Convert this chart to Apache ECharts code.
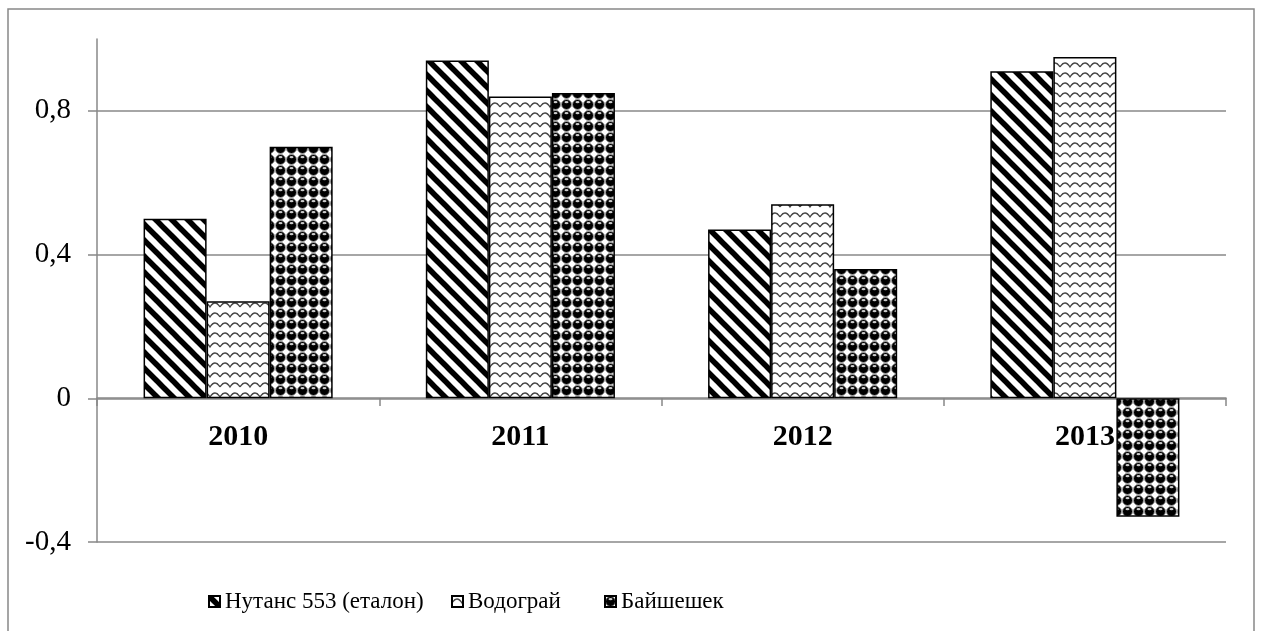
<!DOCTYPE html>
<html>
<head>
<meta charset="utf-8">
<script src="https://cdn.jsdelivr.net/npm/echarts@6/dist/echarts.min.js"></script>
<style>
  html, body { margin: 0; padding: 0; background: #fff; }
  #chart { width: 1261px; height: 631px; }
</style>
</head>
<body>
<div id="chart"></div>
<script>
// дані
var years = ['2010', '2011', '2012', '2013'];
var seriesNames = ['Нутанс 553 (еталон)', 'Водограй', 'Байшешек'];
var nutans = [0.50, 0.94, 0.47, 0.91];
var vodohrai = [0.27, 0.84, 0.54, 0.95];
var baishesek = [0.70, 0.85, 0.36, -0.33];

// візерунки заливки
function stripes() {
  var c = document.createElement('canvas');
  c.width = 16; c.height = 16;
  var g = c.getContext('2d');
  g.fillStyle = '#fff';
  g.fillRect(0, 0, 16, 16);
  g.strokeStyle = '#000';
  g.lineWidth = 5.5;
  for (var k = -16; k <= 16; k += 16) {
    g.beginPath();
    g.moveTo(k - 4, -4);
    g.lineTo(k + 20, 20);
    g.stroke();
  }
  return c;
}
function waves() {
  var c = document.createElement('canvas');
  c.width = 20; c.height = 10;
  var g = c.getContext('2d');
  g.fillStyle = '#fff';
  g.fillRect(0, 0, 20, 10);
  g.strokeStyle = '#444';
  g.lineWidth = 1.4;
  g.beginPath();
  g.moveTo(0, 7);
  g.quadraticCurveTo(5, -1, 10, 7);
  g.quadraticCurveTo(15, -1, 20, 7);
  g.stroke();
  return c;
}
function balls() {
  var c = document.createElement('canvas');
  c.width = 11; c.height = 11;
  var g = c.getContext('2d');
  g.fillStyle = '#fff';
  g.fillRect(0, 0, 11, 11);
  g.beginPath();
  g.arc(5.5, 5.5, 5, 0, Math.PI * 2);
  g.fillStyle = '#000';
  g.fill();
  g.strokeStyle = '#999';
  g.lineWidth = 1;
  g.stroke();
  g.beginPath();
  g.ellipse(5.5, 3.2, 2, 1.1, 0, 0, Math.PI * 2);
  g.fillStyle = '#ccc';
  g.fill();
  return c;
}

var serif = "'Liberation Serif', serif";
var chart = echarts.init(document.getElementById('chart'));

function bar(name, data, img) {
  return {
    name: name,
    type: 'bar',
    data: data,
    barGap: '0%',
    barCategoryGap: '33%',
    itemStyle: {
      color: { image: img, repeat: 'repeat' },
      borderColor: '#000',
      borderWidth: 1.5
    }
  };
}

function legendAt(name, left) {
  return {
    data: [name],
    left: left,
    bottom: 13,
    icon: 'rect',
    itemWidth: 11,
    itemHeight: 11,
    itemGap: 0,
    textStyle: { fontFamily: serif, fontSize: 23, color: '#000' }
  };
}

var option = {
  animation: false,
  backgroundColor: '#fff',
  textStyle: { fontFamily: serif },
  graphic: [{
    type: 'rect',
    shape: { x: 8, y: 9, width: 1246, height: 640 },
    style: { fill: null, stroke: '#888', lineWidth: 1.5 },
    silent: true
  }],
  grid: { left: 97, right: 35, top: 39, bottom: 89 },
  legend: [
    legendAt(seriesNames[0], 203),
    legendAt(seriesNames[1], 446),
    legendAt(seriesNames[2], 599)
  ],
  xAxis: {
    type: 'category',
    data: years,
    offset: -144,
    axisLine: { onZero: false, lineStyle: { color: '#888', width: 1.5 } },
    axisTick: { show: true, length: 8, lineStyle: { color: '#888', width: 1.5 } },
    axisLabel: { margin: 24, fontFamily: serif, fontSize: 30, fontWeight: 'bold', color: '#000' }
  },
  yAxis: {
    type: 'value',
    min: -0.4,
    max: 1.0,
    interval: 0.4,
    axisLine: { show: true, lineStyle: { color: '#888', width: 1.5 } },
    axisTick: { show: true, length: 9, lineStyle: { color: '#888', width: 1.5 } },
    axisLabel: {
      margin: 26,
      showMaxLabel: false,
      fontFamily: serif,
      fontSize: 29,
      color: '#000',
      formatter: function (v) {
        if (Math.abs(v - 1) < 1e-6) return '';
        return String(Math.round(v * 10) / 10).replace('.', ',');
      }
    },
    splitLine: { show: true, showMaxLine: false, lineStyle: { color: '#888', width: 1.5 } }
  },
  series: [
    bar(seriesNames[0], nutans, stripes()),
    bar(seriesNames[1], vodohrai, waves()),
    bar(seriesNames[2], baishesek, balls())
  ]
};
chart.setOption(option);
</script>
</body>
</html>
